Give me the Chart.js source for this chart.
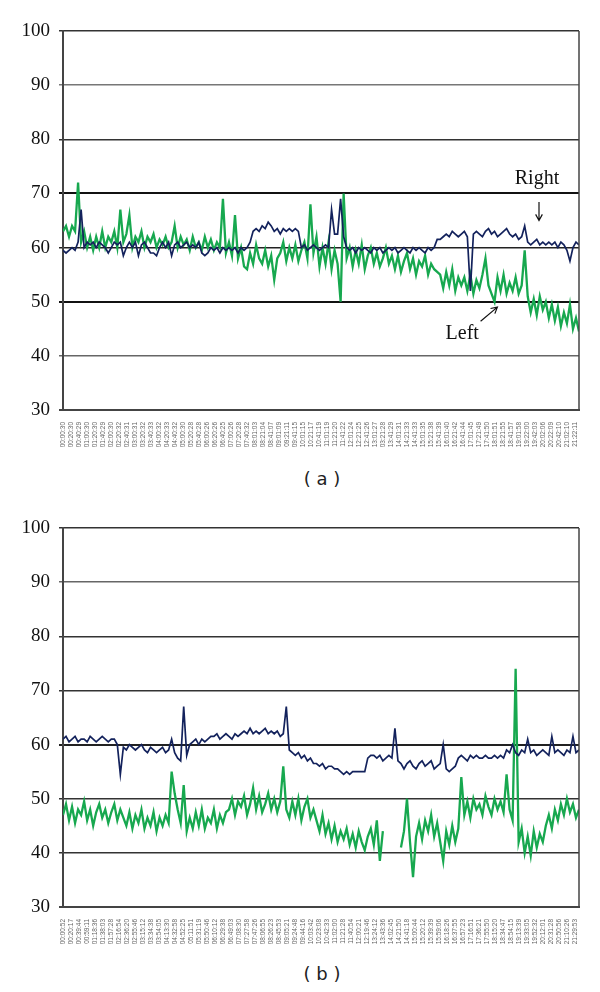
<!DOCTYPE html>
<html>
<head>
<meta charset="utf-8">
<script src="https://cdn.jsdelivr.net/npm/chart.js@4.4.1/dist/chart.umd.min.js"></script>
<style>
  html, body { margin: 0; padding: 0; background: #fff; }
  body { width: 600px; height: 992px; position: relative; overflow: hidden; }
  .panel { position: absolute; left: 0; width: 600px; height: 460px; }
  .caption { position: absolute; width: 80px; left: 282px; text-align: center;
             font: 18px "DejaVu Sans", sans-serif; color: #222; }
</style>
</head>
<body>
<div class="panel" style="top:0"><canvas id="chartA" width="600" height="460"></canvas></div>
<div class="caption" style="top:468px">( a )</div>
<div class="panel" style="top:497px"><canvas id="chartB" width="600" height="460"></canvas></div>
<div class="caption" style="top:963px">( b )</div>
<script>
// ---- tick labels (time of day) ----
const timesA = ['00:00:30','00:20:30','00:40:29','01:00:30','01:20:30','01:40:29','02:00:30','02:20:32',
  '02:40:31','03:00:31','03:20:32','03:40:33','04:00:32','04:20:33','04:40:32','05:00:30','05:20:28',
  '05:40:28','06:00:26','06:20:26','06:40:25','07:00:26','07:20:28','07:40:32','08:01:03','08:21:04',
  '08:41:07','09:01:09','09:21:11','09:41:15','10:01:15','10:21:17','10:41:19','11:01:19','11:21:20',
  '11:41:22','12:01:24','12:21:25','12:41:26','13:01:27','03:21:28','13:41:29','14:01:31','14:21:33',
  '14:41:33','15:01:35','15:21:38','15:41:39','16:01:40','16:21:42','16:41:44','17:01:45','17:21:49',
  '17:41:50','18:01:51','18:21:55','18:41:57','19:01:58','19:22:00','19:42:03','20:02:06','20:22:09',
  '20:42:10','21:02:10','21:22:11'];

const timesB = ['00:00:52','00:20:17','00:39:44','00:59:11','01:18:36','01:38:03','01:57:28','02:16:54',
  '02:36:20','02:55:46','03:15:12','03:34:38','03:54:05','04:13:30','04:32:58','04:52:25','05:11:51',
  '05:31:19','05:50:46','06:10:12','06:29:38','06:49:03','07:08:30','07:27:58','07:47:26','08:06:55',
  '08:26:23','08:45:53','09:05:21','09:24:48','09:44:16','10:03:42','10:23:08','10:42:33','11:02:00',
  '11:21:28','11:40:54','12:00:21','12:19:46','13:24:12','13:43:36','14:02:45','14:21:50','14:41:18',
  '15:00:44','15:20:12','15:39:39','15:59:06','16:18:26','16:37:55','16:57:23','17:16:51','17:36:21',
  '17:55:50','18:15:20','18:34:47','18:54:15','19:13:39','19:33:05','19:52:32','20:12:01','20:31:28',
  '20:50:56','21:10:26','21:29:53'];

const yTicks = [30, 40, 50, 60, 70, 80, 90, 100];

// ---- panel (a) readings ----
const leftA = [
  63, 64, 62, 64, 63, 72, 61, 63, 60, 62, 59.5, 62, 60,
  63, 60, 62, 61, 63, 60, 67, 61, 62.5, 66,
  60, 62, 61, 63, 60, 62, 61, 62.5, 60, 61.5, 60.5, 62, 60, 61, 64,
  60, 62, 60.5, 61.5, 59.5, 62, 60,
  61, 59.5, 62, 60, 61.5, 59.5, 61, 60, 69, 59, 61, 58.5, 66,
  58, 60, 56.5, 56, 59, 57, 60.5, 58, 57, 59.5, 56.5, 58.5, 54, 58,
  59, 61, 57.5, 60, 58, 60.5, 57.5, 59.5, 61, 58, 68,
  59, 62, 56.5, 60, 57, 61, 56, 59.5, 57, 50, 70,
  58, 60, 56.5, 59.5, 57, 60.5, 56, 58.5, 60, 57, 59, 56.5, 58, 60, 57, 58.5, 56,
  58.5, 55.5, 57.5, 59, 56, 58, 55, 57.5, 56.5, 58.5, 55, 57, 56, 55.5,
  55, 52.5, 55.5, 53, 56, 52, 54.5, 53,
  54.5, 52, 55, 51.5, 54, 52.5, 55, 58,
  53, 51.5, 50, 54.5, 52, 55, 51.5, 53.5, 52, 54.5, 51.5, 53, 59.5,
  51, 48, 50.5, 47.5, 51, 48.5, 50, 47, 49.5,
  46.5, 49, 45.5, 48, 46, 49.5, 45, 47, 44.5
];
const rightA = [
  59.5, 59, 59.5, 60, 59.5, 61, 67,
  60, 61, 60.5, 61, 60, 61, 60.5, 60, 59,
  60, 61, 60.5, 61, 58.5, 60, 61, 60, 61, 58.5, 60.5, 61, 60,
  59, 59, 58.5,
  60, 61, 60, 61, 58.5, 60.5, 61, 60, 60.5, 61, 60, 60.5, 60, 61,
  59, 58.5, 59,
  60, 59.5, 60, 59, 60, 59.5, 60,
  59.5, 60, 59, 60, 59.5, 60, 61,
  63, 63.5, 63, 64, 63.5, 64.7, 64, 63, 63.5, 62.5, 63.5, 63, 63.5, 63, 63.5, 63,
  60, 60.5, 59.5, 60, 60.5, 60, 59.5, 60, 60.5, 60,
  67, 62.5, 62.5, 69, 62,
  60, 59.5, 60, 59, 60, 59.5, 60, 59.5, 59, 60, 59.5, 60, 59, 59.5, 60,
  59.5, 60, 59, 59.5, 60, 59.5, 59, 60, 59.5, 60, 59.5, 59, 60, 59.5, 60,
  61.5, 61.5,
  62, 62.5, 62, 63, 62.5, 62, 62.5, 63, 62, 52,
  62.5, 63, 62.5, 62, 63, 63.5, 62.5, 63, 62, 62.5, 63, 63.5, 62.5, 62, 62.5, 61.5, 62,
  64,
  61, 60.5, 61, 61.5, 60.5, 61, 60.5, 61, 60.5, 61, 60, 61, 60.5, 59.5, 57.5, 60, 61, 60.5
];

// ---- panel (b) readings ----
const leftB = [
  47, 49, 46, 48.5, 45.5, 48, 47, 49.5, 46, 48, 45, 47.5, 49, 46.5, 48, 45.5, 47.5, 49, 46, 48, 46.5,
  45, 47.5, 44.5, 47, 45.5, 48, 44.5, 46.5, 45, 47.5, 44, 46.5, 45, 47, 45.5,
  55, 51, 48, 45.5, 52.5, 44,
  46.5, 44.5, 47.5, 45, 48, 44.5, 46.5, 45.5, 48, 44.5, 47, 45.5, 47.5,
  48, 50, 47, 49.5, 48.5, 50.5, 47, 49, 52, 48, 50.5, 47.5, 49, 51, 48, 50, 47.5, 49.5,
  56, 48, 46.5, 49.5, 47, 50, 46, 48.5, 50, 46.5, 48,
  46, 44, 47, 43.5, 45.5, 42.5, 45, 42, 44,
  42.5, 44.5, 41.5, 43.5, 41, 44, 42, 40.5, 43,
  44.5, 41.5, 46, 38.5, 44,
  null, null, null, null, null,
  41, 44, 50, 42, 35.5,
  43, 45.5, 42.5, 46, 44, 47, 43, 45.5, 42, 38.5,
  44, 41.5, 45, 42, 44.5, 54,
  47, 49.5, 46.5, 50, 48, 49, 47, 50.5, 48.5, 47, 50, 48, 49.5, 47.5,
  54.5, 48, 46, 74,
  42, 44.5, 40, 43, 39.5, 44, 41, 43.5, 42,
  45, 47, 44.5, 48, 46, 49, 47, 50, 47.5, 49, 46.5, 48
];
const rightB = [
  61, 61.5, 60.5, 61, 61.5, 60.5, 61, 61, 60.5, 61.5, 61, 60.5, 61, 61.5, 61, 60.5, 61, 61,
  60, 54.5,
  59.5, 59, 60, 59.5, 59, 59.5, 60, 59, 58.5, 59.5, 59, 58.5, 59, 59.5, 58.5, 59,
  61, 58.5, 57.5, 57, 67, 58,
  60, 60.5, 61, 60, 61, 60.5, 61, 61.5,
  61.5, 62, 61, 61.5, 62, 61.5, 61, 62, 61.5,
  62, 62.5, 62, 63, 62, 62.5, 62, 62.5, 63, 62, 62.5, 62, 62.5, 61.5, 62,
  67,
  59, 58.5, 58, 58.5, 57.5, 58, 57, 57.5, 56.5,
  56.5, 56, 56.5, 55.5, 56, 56, 55.5, 55.5,
  55, 54.5, 55, 54.5, 55, 55, 55, 55, 55,
  57.5, 58, 58, 57.5, 58, 57, 57.5, 58, 57.5,
  63,
  57, 56.5, 55.5, 56.5, 57, 56, 55.5, 56.5, 57, 56, 56.5, 57, 55.5, 56, 56.5,
  60,
  55.5, 55, 55.5, 56,
  57.5, 58, 57.5, 57, 58, 57.5, 58, 57.5, 57.5, 58, 57.5, 57.5, 58, 57.5, 58, 57.5,
  59, 58.5, 60, 58.5, 58, 59, 58.5, 61, 58.5, 59, 58, 58.5, 59, 58.5, 58, 61.5, 58.5, 59, 58.5,
  58, 59, 58.5, 61.5, 58.5, 59
];

const NAVY = '#13225c';
const GREEN = '#17a84f';
const X_MAX = 64.5;

// spread the readings evenly over the time axis
function toPoints(values) {
  const step = X_MAX / (values.length - 1);
  return values.map((v, i) => ({ x: i * step, y: v }));
}

// right-hand frame line + text notes
const framePlugin = {
  id: 'frame',
  afterDatasetsDraw(chart, args, opts) {
    const { ctx, chartArea, scales } = chart;
    ctx.save();
    ctx.strokeStyle = '#444';
    ctx.lineWidth = 1.5;
    ctx.beginPath();
    ctx.moveTo(chartArea.right, chartArea.top);
    ctx.lineTo(chartArea.right, chartArea.bottom);
    ctx.stroke();

    (opts.notes || []).forEach(n => {
      ctx.fillStyle = '#111';
      ctx.font = '20px "Liberation Serif", serif';
      ctx.textAlign = 'center';
      ctx.textBaseline = 'middle';
      ctx.fillText(n.text, scales.x.getPixelForValue(n.x), scales.y.getPixelForValue(n.y));
      const x1 = scales.x.getPixelForValue(n.from[0]), y1 = scales.y.getPixelForValue(n.from[1]);
      const x2 = scales.x.getPixelForValue(n.to[0]), y2 = scales.y.getPixelForValue(n.to[1]);
      const a = Math.atan2(y2 - y1, x2 - x1);
      ctx.strokeStyle = '#111';
      ctx.lineWidth = 1.2;
      ctx.beginPath();
      ctx.moveTo(x1, y1);
      ctx.lineTo(x2, y2);
      ctx.moveTo(x2 - 7 * Math.cos(a - 0.5), y2 - 7 * Math.sin(a - 0.5));
      ctx.lineTo(x2, y2);
      ctx.lineTo(x2 - 7 * Math.cos(a + 0.5), y2 - 7 * Math.sin(a + 0.5));
      ctx.stroke();
    });
    ctx.restore();
  }
};

function makePanel(id, times, left, right, gridStyle, notes) {
  return new Chart(document.getElementById(id), {
    type: 'line',
    data: {
      datasets: [
        { label: 'Right', data: toPoints(right), borderColor: NAVY, borderWidth: 1.7 },
        { label: 'Left', data: toPoints(left), borderColor: GREEN, borderWidth: 2.3 }
      ]
    },
    options: {
      responsive: false,
      animation: false,
      spanGaps: false,
      elements: { point: { radius: 0 }, line: { tension: 0, borderJoinStyle: 'miter' } },
      layout: { padding: { top: 31, right: 21, left: 0, bottom: 0 } },
      plugins: {
        legend: { display: false },
        tooltip: { enabled: false },
        frame: { notes: notes }
      },
      scales: {
        x: {
          type: 'linear',
          min: 0,
          max: X_MAX,
          afterBuildTicks: s => { s.ticks = times.map((t, i) => ({ value: i })); },
          afterFit: s => { s.height = 50; },
          grid: { display: false },
          border: { display: true, color: '#444', width: 2 },
          ticks: {
            autoSkip: false,
            minRotation: 90,
            maxRotation: 90,
            padding: 4,
            color: '#666',
            font: { family: 'Liberation Sans', size: 6.5 },
            callback: (v, i) => times[i]
          }
        },
        y: {
          min: 30,
          max: 100,
          afterBuildTicks: s => { s.ticks = yTicks.map(v => ({ value: v })); },
          afterFit: s => { s.width = 63; },
          border: { display: true, color: '#444', width: 2 },
          grid: {
            tickLength: 4,
            color: c => gridStyle[c.tick.value] ? gridStyle[c.tick.value][0] : '#444',
            lineWidth: c => gridStyle[c.tick.value] ? gridStyle[c.tick.value][1] : 1.5
          },
          ticks: {
            padding: 9,
            color: '#111',
            font: { family: 'Liberation Serif', size: 19 }
          }
        }
      }
    },
    plugins: [framePlugin]
  });
}

makePanel('chartA', timesA, leftA, rightA,
  { 30: ['#444', 2], 40: ['#666', 1.5], 50: ['#111', 2], 60: ['#222', 1.5], 70: ['#111', 2],
    80: ['#333', 1.5], 90: ['#777', 1.5], 100: ['#333', 1.5] },
  [
    { text: 'Right', x: 59.25, y: 72.7, from: [59.5, 68.4], to: [59.5, 65.0] },
    { text: 'Left', x: 49.9, y: 44.0, from: [52.2, 46.4], to: [54.3, 49.0] }
  ]);

makePanel('chartB', timesB, leftB, rightB,
  { 30: ['#444', 2], 40: ['#333', 1.5], 50: ['#333', 1.5], 60: ['#222', 2], 70: ['#333', 1.5],
    80: ['#333', 1.5], 90: ['#666', 1.5], 100: ['#333', 1.5] },
  []);
</script>
</body>
</html>
